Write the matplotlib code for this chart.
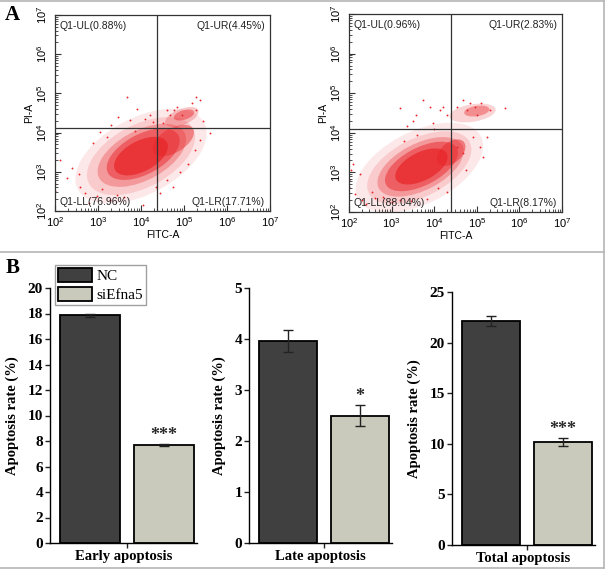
import numpy as np
import matplotlib
matplotlib.use('Agg')
from matplotlib import pyplot as plt
from matplotlib.patches import Ellipse
from matplotlib.lines import Line2D

plt.rcParams['mathtext.default'] = 'regular'

# ---- panel A : flow cytometry (log10 units) ----
quad_nc = ['Q1-UL(0.88%)', 'Q1-UR(4.45%)', 'Q1-LL(76.96%)', 'Q1-LR(17.71%)']
quad_si = ['Q1-UL(0.96%)', 'Q1-UR(2.83%)', 'Q1-LL(88.04%)', 'Q1-LR(8.17%)']
gate_nc = (4.37, 4.13)
gate_si = (4.39, 4.10)

# dense event clouds: centre, half length, half width, angle, density
cloud_nc_x = [4.0, 4.0, 4.02, 4.05, 4.0, 4.75, 4.95, 5.0]
cloud_nc_y = [3.4, 3.4, 3.42, 3.45, 3.4, 3.8, 4.4, 4.45]
cloud_nc_a = [1.7, 1.4, 1.15, 0.95, 0.7, 0.55, 0.42, 0.25]
cloud_nc_b = [0.95, 0.78, 0.62, 0.5, 0.38, 0.3, 0.2, 0.12]
cloud_nc_ang = [32, 32, 32, 32, 32, 35, 25, 20]
cloud_nc_den = [0.1, 0.15, 0.3, 0.5, 0.75, 0.45, 0.25, 0.45]

cloud_si_x = [3.65, 3.65, 3.68, 3.7, 3.7, 4.4, 4.9, 5.0]
cloud_si_y = [3.12, 3.12, 3.14, 3.15, 3.15, 3.5, 4.5, 4.55]
cloud_si_a = [1.65, 1.35, 1.12, 0.95, 0.68, 0.4, 0.55, 0.3]
cloud_si_b = [0.9, 0.72, 0.58, 0.47, 0.35, 0.25, 0.22, 0.13]
cloud_si_ang = [30, 30, 30, 30, 30, 45, 10, 10]
cloud_si_den = [0.1, 0.15, 0.3, 0.5, 0.75, 0.5, 0.2, 0.4]

# scattered single events
dots_nc_x = [3.67, 5.37, 5.29, 3.47, 3.74, 4.21, 4.29, 3.05, 3.2, 2.89, 2.12, 2.27,
             2.58, 2.0, 2.0, 2.0, 2.97, 3.28, 4.05, 4.44, 4.75, 5.37, 5.6, 4.76,
             4.83, 4.6, 4.67, 5.29, 5.18, 4.95, 4.52, 2.4, 2.7, 3.6, 4.9, 5.45,
             3.9, 4.1, 3.3, 2.55, 2.8, 3.1, 3.45, 4.6, 5.1, 5.25, 4.35, 3.85]
dots_nc_y = [4.92, 4.83, 4.92, 4.41, 4.32, 4.45, 4.28, 4.02, 3.9, 3.73, 3.3, 2.83,
             2.62, 2.9, 2.7, 2.5, 2.37, 2.28, 2.15, 2.45, 2.62, 3.81, 3.98, 4.58,
             4.66, 4.58, 4.45, 4.58, 4.75, 4.45, 4.24, 3.1, 2.45, 2.35, 3.0, 4.3,
             4.6, 4.35, 4.2, 2.95, 2.2, 2.55, 2.42, 2.8, 3.2, 3.55, 2.6, 4.05]

dots_si_x = [3.74, 3.19, 3.9, 4.13, 4.21, 4.53, 4.68, 4.84, 5.11, 5.31, 5.66, 3.58,
             3.35, 3.98, 4.92, 5.23, 5.07, 2.0, 2.0, 2.53, 2.25, 2.8, 3.19, 3.82,
             4.29, 4.76, 4.96, 5.0, 4.53, 4.68, 2.3, 3.5, 4.0, 2.1,
             2.15, 2.4, 2.6, 3.0, 3.45, 4.1, 4.75, 5.15, 4.3, 3.3, 2.05, 3.6]
dots_si_y = [4.83, 4.62, 4.66, 4.58, 4.66, 4.66, 4.83, 4.75, 4.75, 4.58, 4.62, 4.45,
             4.16, 4.24, 3.9, 3.9, 3.65, 2.64, 2.8, 2.51, 2.97, 2.38, 2.3, 2.34,
             2.51, 4.58, 4.66, 4.45, 3.65, 3.48, 2.3, 4.3, 4.1, 3.2,
             2.45, 2.2, 2.35, 2.25, 2.28, 2.6, 3.05, 3.4, 4.45, 3.8, 3.05, 3.95]

decades = [2, 3, 4, 5, 6, 7]

# ---- panel B : apoptosis bars ----
groups = ['Early apoptosis', 'Late apoptosis', 'Total apoptosis']
nc_mean = [17.86, 3.96, 22.13]
nc_err = [0.1, 0.22, 0.5]
si_mean = [7.69, 2.5, 10.18]
si_err = [0.08, 0.2, 0.4]
stars = ['***', '*', '***']
ytop = [20, 5, 25]
ystep = [2, 1, 5]

red = '#e8262a'
dark = '#404040'
light = '#c9c9bc'
serif = 'Liberation Serif'
sans = 'Liberation Sans'

W, H = 607, 570
fig = plt.figure(figsize=(W / 100, H / 100), dpi=100)


def px_rect(x0, y0, x1, y1):
    return [x0 / W, 1 - y1 / H, (x1 - x0) / W, (y1 - y0) / H]


def flow_plot(rect, quads, gate, cx, cy, ca, cb, cang, cden, dx, dy):
    ax = fig.add_axes(rect)
    for i in range(len(cx)):
        ax.add_patch(Ellipse((cx[i], cy[i]), 2 * ca[i], 2 * cb[i], angle=cang[i],
                             facecolor=red, edgecolor='none', alpha=cden[i]))
    ax.scatter(dx, dy, s=1.8, color=red, linewidths=0)
    ax.axvline(gate[0], color='#333333', lw=0.9)
    ax.axhline(gate[1], color='#333333', lw=0.9)
    ax.set_xlim(2, 7)
    ax.set_ylim(2, 7)
    ax.set_xticks(decades)
    ax.set_yticks(decades)
    ax.set_xticklabels(['$10^{%d}$' % d for d in decades], fontname=sans, fontsize=8)
    ax.set_yticklabels(['$10^{%d}$' % d for d in decades], fontname=sans, fontsize=8,
                       rotation=90, va='center')
    minor = [d + np.log10(m) for d in decades[:-1] for m in range(2, 10)]
    ax.set_xticks(minor, minor=True)
    ax.set_yticks(minor, minor=True)
    ax.tick_params(which='both', direction='in', color='#333333')
    ax.tick_params(axis='x', pad=3)
    ax.tick_params(axis='y', pad=4)
    ax.tick_params(which='major', length=4)
    ax.tick_params(which='minor', length=2.5)
    for s in ax.spines.values():
        s.set_color('#333333')
        s.set_linewidth(0.9)
    ax.set_xlabel('FITC-A', fontname=sans, fontsize=7.5, labelpad=1)
    ax.set_ylabel('PI-A', fontname=sans, fontsize=7.5, labelpad=1)
    kw = dict(transform=ax.transAxes, fontname=sans, fontsize=7.5, color='#222222', va='center')
    ax.text(0.023, 0.944, quads[0], ha='left', **kw)
    ax.text(0.977, 0.944, quads[1], ha='right', **kw)
    ax.text(0.023, 0.045, quads[2], ha='left', **kw)
    ax.text(0.977, 0.045, quads[3], ha='right', **kw)
    return ax


flow_plot(px_rect(55, 15, 270, 211), quad_nc, gate_nc, cloud_nc_x, cloud_nc_y,
          cloud_nc_a, cloud_nc_b, cloud_nc_ang, cloud_nc_den, dots_nc_x, dots_nc_y)
flow_plot(px_rect(349, 14, 562, 212), quad_si, gate_si, cloud_si_x, cloud_si_y,
          cloud_si_a, cloud_si_b, cloud_si_ang, cloud_si_den, dots_si_x, dots_si_y)

bar_rects = [px_rect(50, 288, 197, 543), px_rect(249, 288, 392, 543), px_rect(452, 292, 595, 545)]
bw = 0.81
axes_b = []
for i, g in enumerate(groups):
    ax = fig.add_axes(bar_rects[i])
    ax.bar(0, nc_mean[i], bw, yerr=nc_err[i], color=dark, edgecolor='black', lw=1.3,
           error_kw=dict(ecolor='#222222', elinewidth=1, capsize=3.5, capthick=1), label='NC')
    ax.bar(1, si_mean[i], bw, yerr=si_err[i], color=light, edgecolor='black', lw=1.3,
           error_kw=dict(ecolor='#222222', elinewidth=1, capsize=3.5, capthick=1), label='siEfna5')
    ax.annotate(stars[i], (1, si_mean[i] + si_err[i]), xytext=(0, 0), textcoords='offset points',
                ha='center', va='bottom', fontname=serif, fontweight='bold', fontsize=13,
                color='#2a2a2a')
    ax.set_xlim(-0.54, 1.45)
    ax.set_ylim(0, ytop[i])
    ax.set_yticks(np.arange(0, ytop[i] + 0.01, ystep[i]))
    ax.set_xticks([0.5])
    ax.set_xticklabels([''])
    for lab in ax.get_yticklabels():
        lab.set_fontname(serif)
        lab.set_fontweight('bold')
        lab.set_fontsize(11)
    ax.tick_params(direction='out', length=3.5, width=1, pad=1.5, color='#222222')
    ax.spines['top'].set_visible(False)
    ax.spines['right'].set_visible(False)
    ax.spines['left'].set_linewidth(1)
    ax.spines['bottom'].set_linewidth(1)
    ax.set_ylabel('Apoptosis rate (%)', fontname=serif, fontweight='bold', fontsize=10.5, labelpad=6)
    ax.set_xlabel(g, fontname=serif, fontweight='bold', fontsize=10.5, labelpad=0)
    axes_b.append(ax)

leg = axes_b[0].legend(loc='upper left', bbox_to_anchor=(55 / W, 1 - 265 / H),
                       bbox_transform=fig.transFigure, borderaxespad=0, frameon=True,
                       fancybox=False, prop=dict(family=serif, size=11), handlelength=2.2,
                       handleheight=1.0, labelspacing=0.25, borderpad=0.2, handletextpad=0.3)
leg.get_frame().set_edgecolor('#888888')
leg.get_frame().set_linewidth(1)

fig.text(12 / W, 1 - 15 / H, 'A', fontname=serif, fontweight='bold', fontsize=15, ha='center', va='center')
fig.text(13 / W, 1 - 268 / H, 'B', fontname=serif, fontweight='bold', fontsize=15, ha='center', va='center')

border = '#b5b5b5'
for xs, ys in [((0, 604), (1, 1)), ((0, 604), (252, 252)), ((0, 604), (568, 568)), ((604, 604), (1, 568))]:
    fig.add_artist(Line2D([x / W for x in xs], [1 - y / H for y in ys], color=border, lw=1.2))

fig.savefig('out.png', dpi=100)
